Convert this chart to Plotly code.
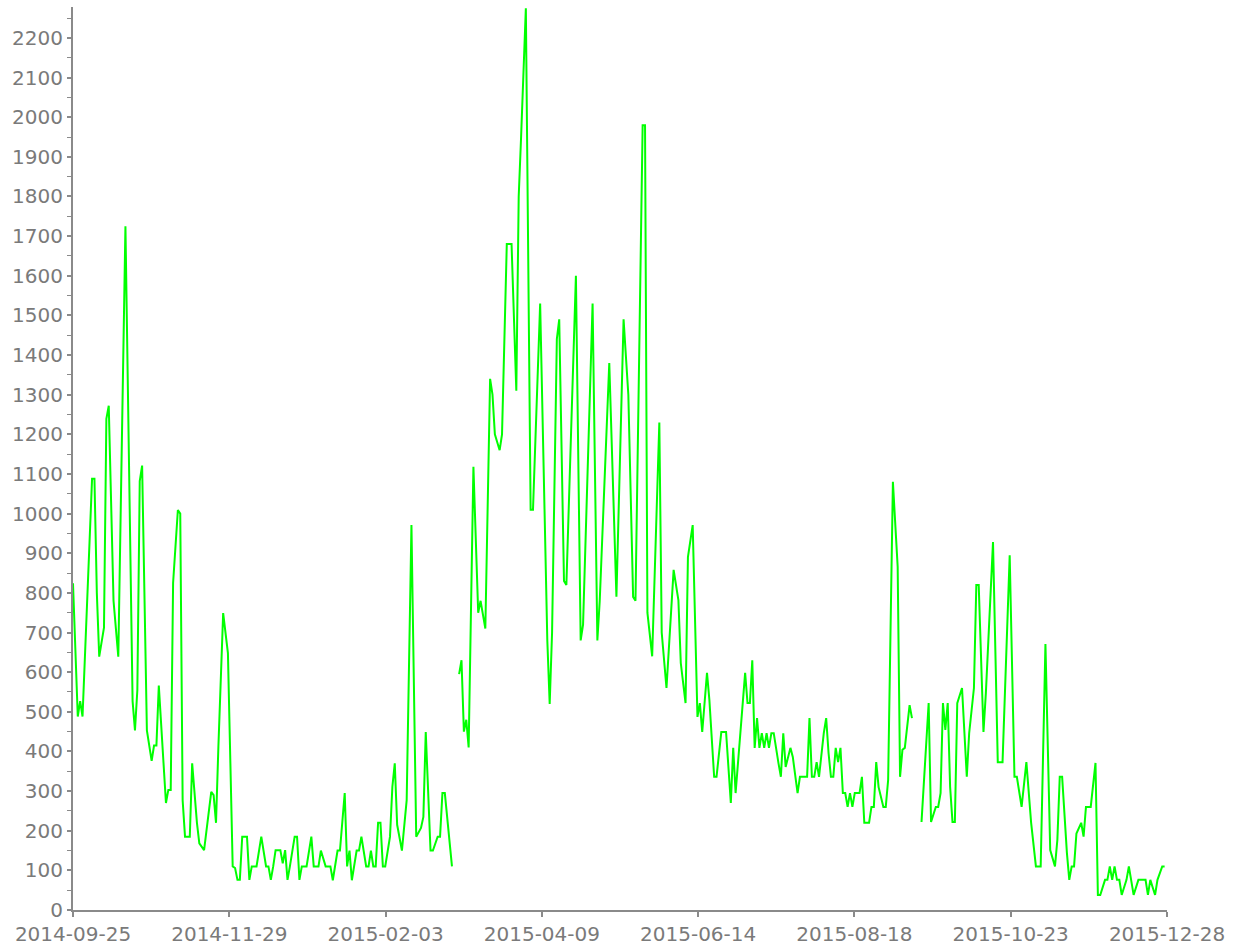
import pandas as pd
import plotly.graph_objects as go

start_date = "2014-09-25"
end_date = "2015-12-28"

# segment 1 (days since start_date, value)
seg1_days = [0, 2, 3, 4, 8, 9, 10, 11, 13, 14, 15, 17, 19, 22, 25, 26, 27, 28, 29, 31,
             33, 34, 35, 36, 39, 40, 41, 42, 44, 45, 46, 47, 49, 50, 52, 53, 55, 56, 58, 59,
             60, 61, 63, 65, 67, 68, 69, 70, 71, 73, 74, 75, 77, 79, 81, 82, 83, 84, 85, 87,
             88, 89, 90, 91, 93, 94, 95, 96, 98, 100, 101, 103, 104, 106, 108, 109, 111, 112, 114, 115,
             116, 117, 119, 120, 121, 123, 124, 125, 126, 127, 128, 129, 130, 131, 133, 134, 135, 136, 137, 138,
             140, 142, 144, 146, 147, 148, 150, 151, 153, 154, 155, 156, 159]
seg1_vals = [824, 488, 527, 488, 1088, 1088, 800, 639, 712, 1239, 1272, 780, 639, 1725, 527, 453, 555, 1082, 1121, 453,
             376, 415, 415, 566, 270, 303, 303, 825, 1009, 1000, 277, 185, 185, 370, 220, 168, 151, 202, 298, 290,
             220, 412, 749, 648, 110, 106, 76, 76, 185, 185, 76, 110, 110, 185, 110, 110, 76, 110, 151, 151,
             118, 151, 76, 110, 185, 185, 76, 110, 110, 185, 110, 110, 150, 110, 110, 75, 150, 150, 295, 110,
             150, 75, 150, 150, 185, 110, 110, 150, 110, 110, 220, 220, 110, 110, 185, 311, 370, 215, 185, 150,
             277, 971, 185, 207, 235, 449, 150, 150, 185, 185, 295, 295, 110]

seg2_days = [162, 163, 164, 165, 166, 168, 170, 171, 173, 175, 176, 177, 179, 180, 182, 184, 186, 187, 188, 190,
             192, 193, 196, 199, 200, 201, 203, 204, 206, 207, 211, 213, 214, 218, 220, 221, 225, 228, 231, 233,
             235, 236, 239, 240, 241, 243, 246, 247, 249, 252, 254, 255, 257, 258, 260, 262, 263, 264, 266, 267,
             269, 270, 272, 274, 276, 277, 278, 282, 283, 284, 285, 286, 287, 288, 289, 290, 291, 292, 293, 294,
             296, 297, 298, 299, 301, 302, 304, 305, 308, 309, 310, 311, 312, 313, 315, 316, 317, 318, 319, 320,
             321, 322, 323, 324, 325, 326, 327, 328, 330, 331, 332, 334, 335, 336, 337, 338, 340, 341, 342, 344,
             346, 347, 348, 349, 351, 352]
seg2_vals = [595, 630, 450, 480, 410, 1118, 750, 780, 710, 1340, 1300, 1200, 1160, 1200, 1680, 1680, 1310, 1800, 1950, 2275,
             1010, 1010, 1530, 680, 520, 700, 1440, 1490, 830, 820, 1600, 680, 720, 1530, 680, 780, 1380, 790, 1490, 1300,
             790, 780, 1980, 1980, 750, 640, 1230, 700, 560, 858, 782, 623, 522, 890, 971, 487, 522, 449, 598, 530,
             336, 336, 449, 449, 270, 409, 295, 598, 522, 522, 630, 409, 484, 409, 446, 409, 446, 409, 446, 446,
             370, 336, 446, 361, 409, 386, 295, 336, 336, 484, 336, 336, 373, 336, 446, 484, 396, 336, 336, 409,
             373, 409, 295, 295, 260, 295, 260, 295, 295, 336, 220, 220, 260, 260, 373, 310, 260, 260, 328, 1080,
             866, 336, 404, 409, 517, 484]

seg3_days = [356, 359, 360, 362, 363, 364, 365, 366, 367, 368, 369, 370, 371, 373, 375, 376, 378, 379, 380, 382,
             383, 386, 388, 390, 393, 395, 396, 398, 400, 402, 404, 406, 408, 410, 412, 413, 414, 415, 417, 418,
             419, 420, 421, 423, 424, 425, 427, 429, 430, 431, 433, 434, 435, 436, 437, 438, 439, 440, 442, 443,
             445, 447, 450, 451, 452, 454, 455, 457, 458]
seg3_vals = [222, 522, 222, 260, 260, 295, 522, 454, 522, 311, 222, 222, 522, 560, 336, 446, 560, 820, 820, 449,
             547, 928, 373, 373, 895, 336, 336, 260, 373, 220, 110, 110, 671, 151, 110, 177, 336, 336, 144, 76,
             110, 110, 193, 220, 185, 260, 260, 371, 38, 38, 76, 76, 110, 76, 110, 76, 76, 38, 76, 110,
             38, 76, 76, 38, 76, 38, 76, 110, 110]

tick_labels = ["2014-09-25", "2014-11-29", "2015-02-03", "2015-04-09",
               "2015-06-14", "2015-08-18", "2015-10-23", "2015-12-28"]

# assemble, with gaps (None) between segments
days, vals = [], []
for i, (d, v) in enumerate([(seg1_days, seg1_vals), (seg2_days, seg2_vals), (seg3_days, seg3_vals)]):
    if i > 0:
        days.append(d[0] - 1)
        vals.append(None)
    days.extend(d)
    vals.extend(v)

t0 = pd.Timestamp(start_date)
t1 = pd.Timestamp(end_date)
dates = [t0 + pd.Timedelta(days=x) for x in days]
tick_vals = pd.date_range(t0, t1, periods=len(tick_labels))

fig = go.Figure(go.Scatter(x=dates, y=vals, mode="lines",
                           line=dict(color="#00ff00", width=2), connectgaps=False,
                           hoverinfo="x+y"))

axis_col = "#8a8a8a"
font = dict(family="DejaVu Sans, Verdana, sans-serif", size=20, color="#7a7a7a")
fig.update_layout(
    width=1242, height=947,
    margin=dict(l=73, r=75, t=7, b=37, autoexpand=False),
    paper_bgcolor="white", plot_bgcolor="white",
    showlegend=False,
    font=font,
)
fig.update_xaxes(
    type="date", range=[t0, t1],
    tickvals=tick_vals, ticktext=tick_labels,
    showgrid=False, zeroline=False,
    showline=True, linecolor=axis_col, linewidth=2,
    ticks="outside", ticklen=5, tickcolor=axis_col, tickwidth=1.5,
    tickfont=font, automargin=False,
)
fig.update_yaxes(
    range=[0, 2278], dtick=100, tick0=0,
    showgrid=False, zeroline=False,
    showline=True, linecolor=axis_col, linewidth=2,
    ticks="outside", ticklen=4, tickcolor=axis_col, tickwidth=1.5,
    minor=dict(dtick=50, ticks="outside", ticklen=4, tickcolor=axis_col, tickwidth=1, showgrid=False),
    tickfont=font, automargin=False,
)

fig.write_html("out.html", config={"displayModeBar": False},
               post_script="document.body.style.margin='0';")
